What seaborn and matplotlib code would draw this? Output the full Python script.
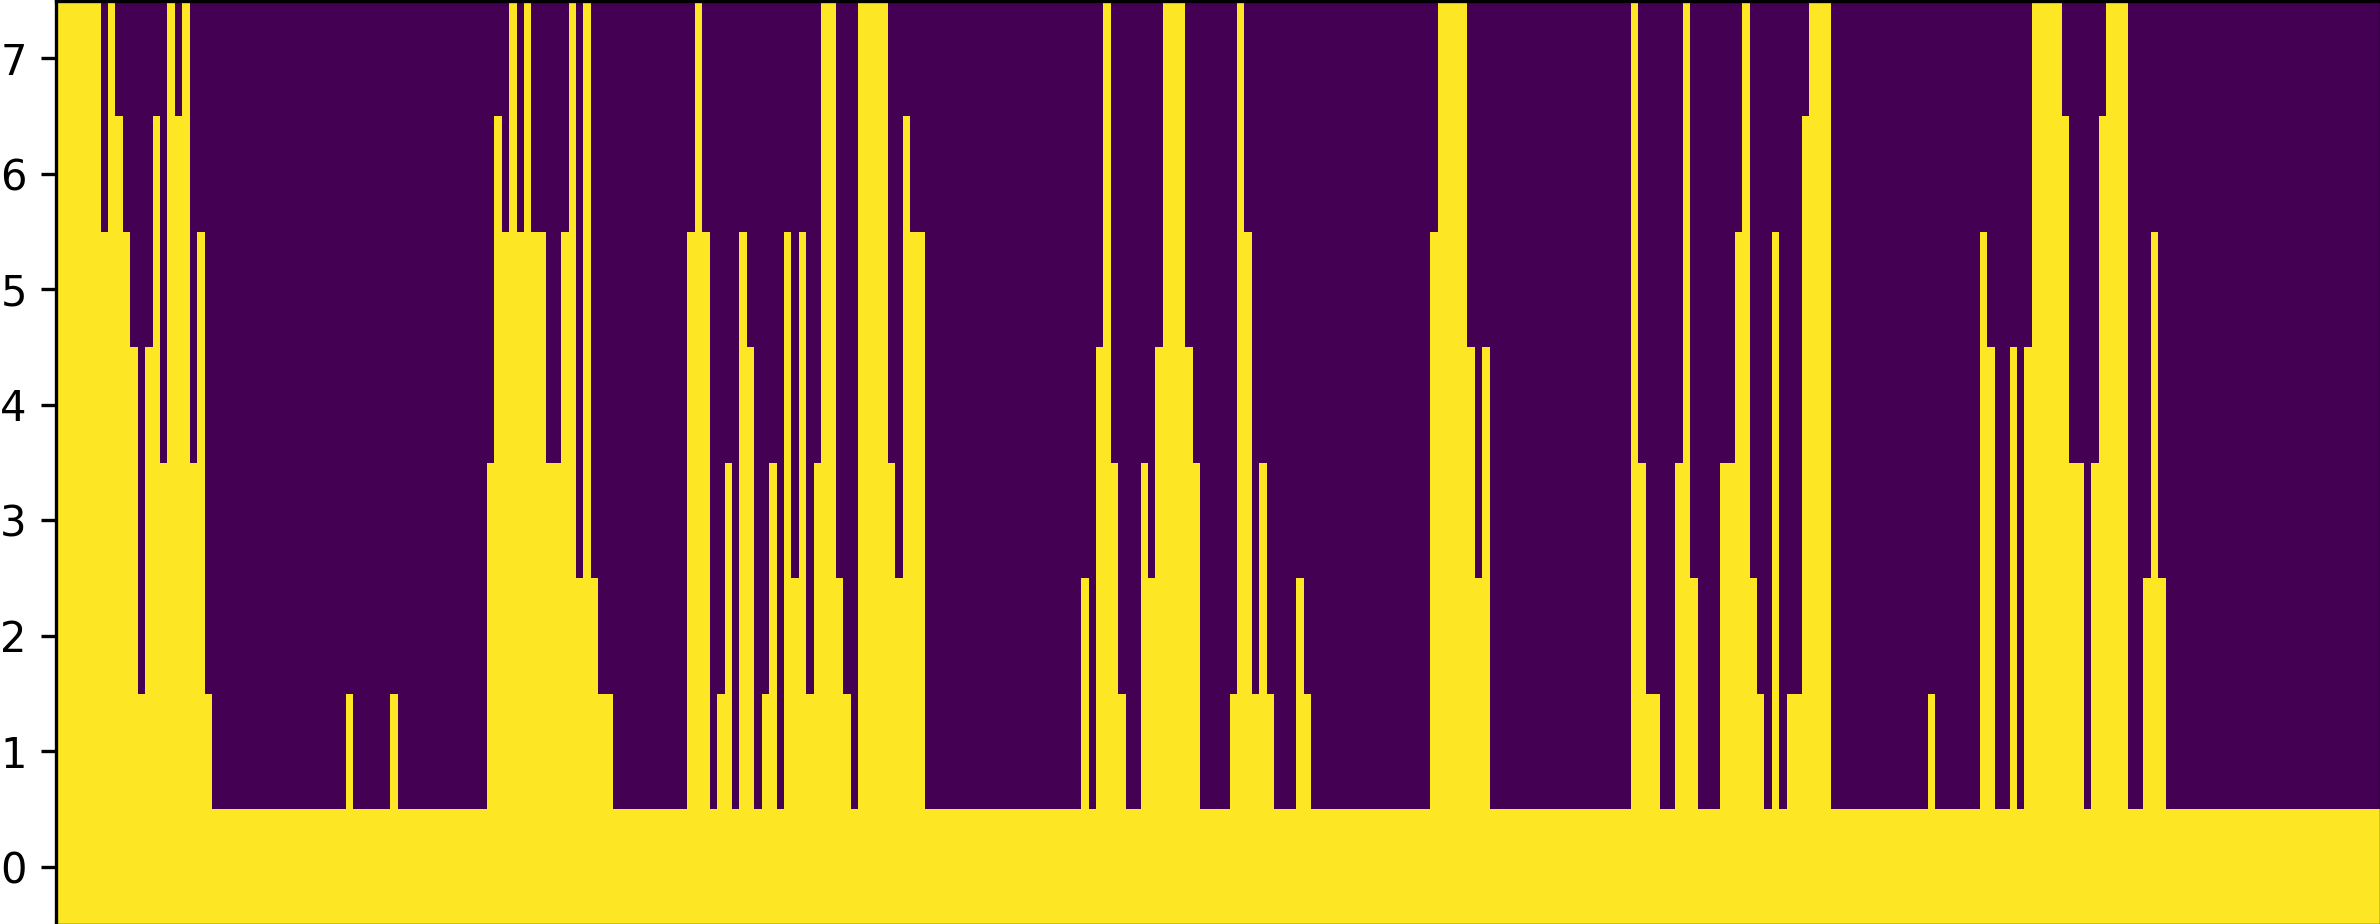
import numpy as np
import pandas as pd
import matplotlib
matplotlib.use('Agg')
import matplotlib.pyplot as plt
import seaborn as sns

# top filled row of every column left to right
column_tops = [
    7, 7, 7, 7, 7, 7, 5, 7, 6, 5, 4, 1, 4, 6, 3, 7, 6, 7, 3, 5,
    1, 0, 0, 0, 0, 0, 0, 0, 0, 0, 0, 0, 0, 0, 0, 0, 0, 0, 0, 1,
    0, 0, 0, 0, 0, 1, 0, 0, 0, 0, 0, 0, 0, 0, 0, 0, 0, 0, 3, 6,
    5, 7, 5, 7, 5, 5, 3, 3, 5, 7, 2, 7, 2, 1, 1, 0, 0, 0, 0, 0,
    0, 0, 0, 0, 0, 5, 7, 5, 0, 1, 3, 0, 5, 4, 0, 1, 3, 0, 5, 2,
    5, 1, 3, 7, 7, 2, 1, 0, 7, 7, 7, 7, 3, 2, 6, 5, 5, 0, 0, 0,
    0, 0, 0, 0, 0, 0, 0, 0, 0, 0, 0, 0, 0, 0, 0, 0, 0, 0, 2, 0,
    4, 7, 3, 1, 0, 0, 3, 2, 4, 7, 7, 7, 4, 3, 0, 0, 0, 0, 1, 7,
    5, 1, 3, 1, 0, 0, 0, 2, 1, 0, 0, 0, 0, 0, 0, 0, 0, 0, 0, 0,
    0, 0, 0, 0, 0, 5, 7, 7, 7, 7, 4, 2, 4, 0, 0, 0, 0, 0, 0, 0,
    0, 0, 0, 0, 0, 0, 0, 0, 0, 0, 0, 0, 7, 3, 1, 1, 0, 0, 3, 7,
    2, 0, 0, 0, 3, 3, 5, 7, 2, 1, 0, 5, 0, 1, 1, 6, 7, 7, 7, 0,
    0, 0, 0, 0, 0, 0, 0, 0, 0, 0, 0, 0, 1, 0, 0, 0, 0, 0, 0, 5,
    4, 0, 0, 4, 0, 4, 7, 7, 7, 7, 6, 3, 3, 0, 3, 6, 7, 7, 7, 0,
    0, 2, 5, 2, 0, 0, 0, 0, 0, 0, 0, 0, 0, 0, 0, 0, 0, 0, 0, 0,
    0, 0, 0, 0, 0, 0, 0, 0, 0, 0, 0, 0, 0,
]
row_labels = [0, 1, 2, 3, 4, 5, 6, 7]

tops = np.array(column_tops)
grid = pd.DataFrame([(tops >= row).astype(int) for row in row_labels], index=row_labels)

W, H, DPI = 2380, 924, 300
fig = plt.figure(figsize=(W / DPI, H / DPI), dpi=DPI)
# the frame runs slightly past the right and bottom edge of the canvas
ax = fig.add_axes([56.0 / W, -0.5 / H, 2325.0 / W, 923.9 / H])

sns.heatmap(grid, cmap='viridis', vmin=0, vmax=1, cbar=False, ax=ax,
            xticklabels=False, yticklabels=True, rasterized=True)
ax.invert_yaxis()  # row 0 sits at the bottom
ax.tick_params(axis='y', labelrotation=0, labelsize=10, length=3.5, width=0.8)
plt.setp(ax.get_yticklabels(), va='center_baseline')
for spine in ax.spines.values():
    spine.set_visible(True)
    spine.set_linewidth(0.8)
    spine.set_color('black')

fig.savefig('out.png', dpi=DPI)
plt.close(fig)
